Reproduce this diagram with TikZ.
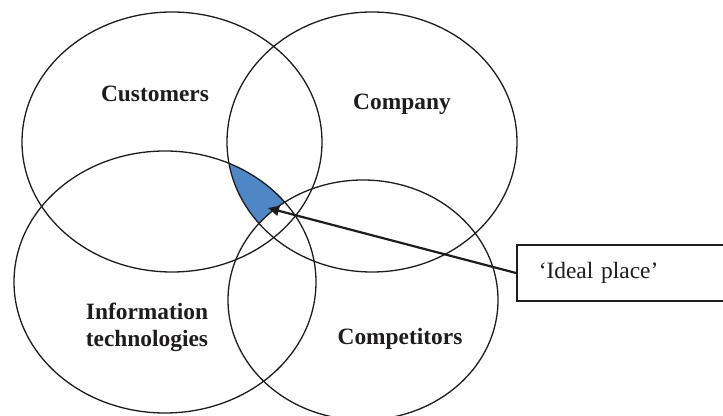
\documentclass[tikz,border=0pt]{standalone}
\usepackage{fontspec}
\setmainfont{Liberation Serif}
\usetikzlibrary{arrows.meta}
\definecolor{ideal}{RGB}{79,134,198}
\definecolor{ink}{RGB}{30,28,29}
\begin{document}
\begin{tikzpicture}[x=0.5pt,y=-0.5pt,
  ring/.style={draw=ink, line width=0.65pt},
  lab/.style={font=\fontsize{11.7}{13.5}\selectfont\bfseries, text=ink, inner sep=0pt, align=center},
  callout/.style={draw=ink, line width=0.8pt, minimum height=28pt, text width=101pt, inner xsep=11pt, inner ysep=0pt, align=left, font=\fontsize{11.7}{13.5}\selectfont, text=ink},
  pointer/.style={draw=ink, line width=1.1pt, -{Triangle[length=5.5pt,width=5pt]}}]
\useasboundingbox (0,0) rectangle (723,416);
% centres
\coordinate (cCust) at (172,142);
\coordinate (cComp) at (372,142);
\coordinate (cIT) at (165,282);
\coordinate (cCmp) at (363,300);
% highlighted area
\begin{scope}
  \clip (cComp) ellipse [x radius=72.5pt, y radius=65pt];
  \clip (cIT) ellipse [x radius=75.5pt, y radius=65.5pt];
  \clip (cCust) ellipse [x radius=75pt, y radius=65pt];
  \fill[ideal, even odd rule] (0,0) rectangle (723,416) (cCmp) ellipse [x radius=67.5pt, y radius=60pt];
\end{scope}
% circles
\path[ring] (cCust) ellipse [x radius=75pt, y radius=65pt];
\path[ring] (cComp) ellipse [x radius=72.5pt, y radius=65pt];
\path[ring] (cIT) ellipse [x radius=75.5pt, y radius=65.5pt];
\path[ring] (cCmp) ellipse [x radius=67.5pt, y radius=60pt];
% labels
\node[lab, anchor=base] (customers) at (155,102) {Customers};
\node[lab, anchor=base] (company) at (402,110) {Company};
\node[lab, anchor=center] (infotech) at (147,327) {Information\\technologies};
\node[lab, anchor=base] (competitors) at (400,345) {Competitors};
% callout
\node[callout, anchor=west] (idealbox) at (516,273) {‘Ideal place’};
\coordinate (tip) at (268,208);
\draw[pointer] (idealbox.west) -- (tip);
\end{tikzpicture}
\end{document}
